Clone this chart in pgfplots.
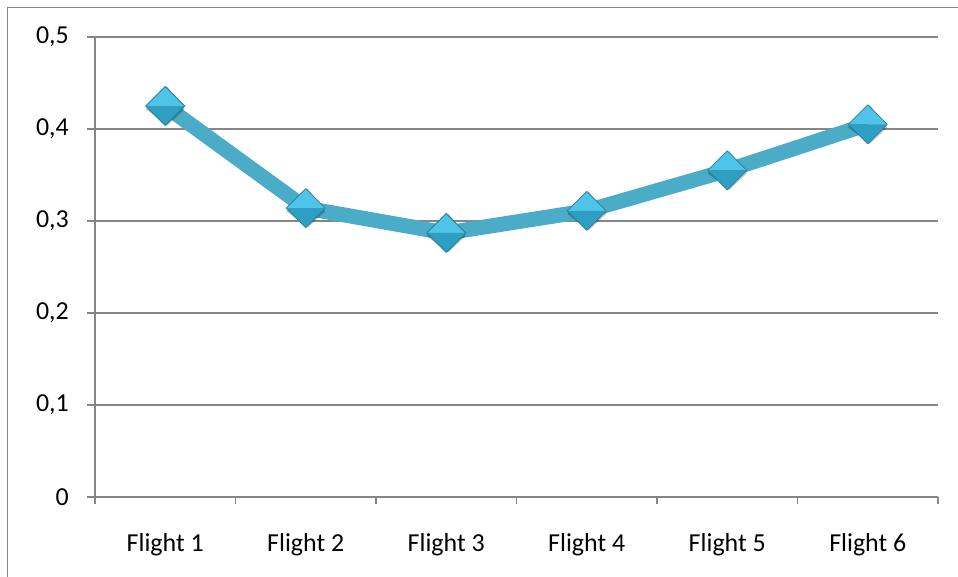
\documentclass[border=0pt]{standalone}
\usepackage{pgfplots}
\pgfplotsset{compat=1.18}
\usepackage{fontspec}
\setmainfont{Carlito}
\definecolor{gridc}{HTML}{868686}
\definecolor{linec}{HTML}{4AACC6}
\definecolor{markt}{HTML}{4EC5E8}
\definecolor{markb}{HTML}{2E9FC2}
\definecolor{markd}{HTML}{247F9C}
\pgfdeclareplotmark{bevdiamond}{%
  \pgfsetfillopacity{0.25}%
  \pgfsetfillcolor{black}%
  \pgfpathmoveto{\pgfqpoint{-\pgfplotmarksize+2pt}{-3pt}}%
  \pgfpathlineto{\pgfqpoint{2pt}{\pgfplotmarksize-3pt}}%
  \pgfpathlineto{\pgfqpoint{\pgfplotmarksize+2pt}{-3pt}}%
  \pgfpathlineto{\pgfqpoint{2pt}{-\pgfplotmarksize-3pt}}%
  \pgfpathclose\pgfusepathqfill
  \pgfsetfillopacity{1}%
  \pgfpathmoveto{\pgfqpoint{-\pgfplotmarksize}{0pt}}%
  \pgfpathlineto{\pgfqpoint{0pt}{\pgfplotmarksize}}%
  \pgfpathlineto{\pgfqpoint{\pgfplotmarksize}{0pt}}%
  \pgfpathclose
  \pgfsetfillcolor{markt}\pgfusepathqfill
  \pgfpathmoveto{\pgfqpoint{-\pgfplotmarksize}{0pt}}%
  \pgfpathlineto{\pgfqpoint{0pt}{-\pgfplotmarksize}}%
  \pgfpathlineto{\pgfqpoint{\pgfplotmarksize}{0pt}}%
  \pgfpathclose
  \pgfsetfillcolor{markb}\pgfusepathqfill
  \pgfpathmoveto{\pgfqpoint{-\pgfplotmarksize}{0pt}}%
  \pgfpathlineto{\pgfqpoint{0pt}{\pgfplotmarksize}}%
  \pgfpathlineto{\pgfqpoint{\pgfplotmarksize}{0pt}}%
  \pgfpathlineto{\pgfqpoint{0pt}{-\pgfplotmarksize}}%
  \pgfpathclose
  \pgfsetstrokecolor{markd}\pgfusepathqstroke
}
\begin{document}
\begin{tikzpicture}
\draw[gridc, line width=1.6bp] (7.5bp,-1000bp) -- (7.5bp,-7.5bp) -- (1000bp,-7.5bp);
\begin{axis}[
  at={(95bp,-497bp)}, anchor=south west,
  scale only axis, width=843bp, height=460bp,
  xmin=-0.5, xmax=5.5, ymin=0, ymax=0.5,
  axis x line*=bottom, axis y line*=left,
  axis line style={gridc, line width=1.3bp},
  xtick={0,1,2,3,4,5},
  xticklabels={Flight 1,Flight 2,Flight 3,Flight 4,Flight 5,Flight 6},
  major x tick style={draw=none},
  minor xtick={-0.5,0.5,1.5,2.5,3.5,4.5,5.5},
  minor tick length=7bp,
  minor x tick style={gridc, line width=1.3bp},
  ytick={0,0.1,0.2,0.3,0.4,0.5},
  yticklabels={0,{0,1},{0,2},{0,3},{0,4},{0,5}},
  major tick length=8bp,
  major y tick style={gridc, line width=1.3bp},
  tick align=outside,
  ymajorgrids,
  grid style={gridc, line width=1.3bp},
  ticklabel style={font=\fontsize{26}{31}\selectfont, text=black},
  yticklabel style={anchor=east, inner sep=0pt, xshift=-18bp},
  xticklabel style={anchor=north, inner sep=0pt, yshift=-28bp},
  /pgf/number format/assume math mode=true,
  clip=false,
]
\addplot[linec, line width=15bp, line join=round,
  mark=bevdiamond, mark size=19.5bp,
  mark options={line width=0.8bp}]
  coordinates {(0,0.425)(1,0.314)(2,0.287)(3,0.311)(4,0.355)(5,0.405)};
\end{axis}
\pgfresetboundingbox
\useasboundingbox (0bp,0bp) rectangle (958bp,-577bp);
\end{tikzpicture}
\end{document}
